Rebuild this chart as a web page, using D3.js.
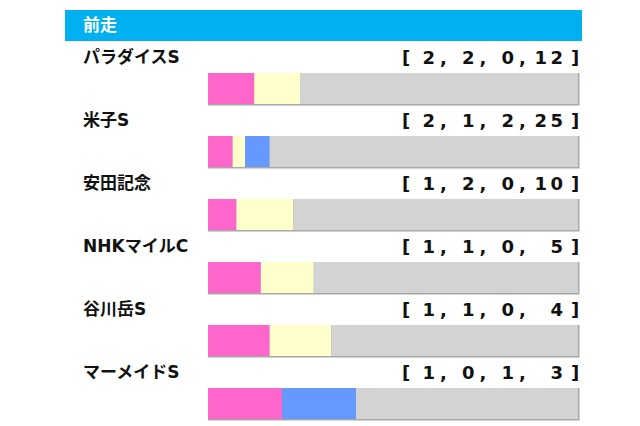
<!DOCTYPE html>
<html>
<head>
<meta charset="utf-8">
<script src="https://d3js.org/d3.v7.min.js"></script>
<style>
  body { margin: 0; background: #fff; }
  text { font-family: "DejaVu Sans", "Noto Sans CJK JP", sans-serif; font-weight: bold; }
</style>
</head>
<body>
<div id="chart"></div>
<script>
// data
var title = "前走";
var races = ["パラダイスS", "米子S", "安田記念", "NHKマイルC", "谷川岳S", "マーメイドS"];
var first  = [2, 2, 1, 1, 1, 1];
var second = [2, 1, 2, 1, 1, 0];
var third  = [0, 2, 0, 0, 0, 1];
var other  = [12, 25, 10, 5, 4, 3];
var colors = ["#ff66cc", "#ffffcc", "#6699ff", "#d3d3d3"];

var W = 640, H = 426;
var svg = d3.select("#chart").append("svg")
    .attr("width", W)
    .attr("height", H);

// header
svg.append("rect")
    .attr("x", 65).attr("y", 10)
    .attr("width", 517).attr("height", 31)
    .attr("fill", "#00b0f0");
svg.append("text")
    .attr("x", 83).attr("y", 31)
    .attr("fill", "#fff")
    .style("font-size", "17px")
    .text(title);

// scales
var y = d3.scalePoint().domain(races).range([73, 388]);
var barH = 31;
var x = d3.scaleLinear().domain([0, 1]).range([208, 578]);

var rows = races.map(function (r, i) {
  return { race: r, vals: [first[i], second[i], third[i], other[i]] };
});

var g = svg.selectAll("g.row").data(rows).enter().append("g").attr("class", "row");

// race label
g.append("text")
    .attr("x", 83)
    .attr("y", function (d) { return y(d.race) - 10; })
    .attr("fill", "#111")
    .style("font-size", "17px")
    .text(function (d) { return d.race; });

// shadow border
g.append("rect")
    .attr("x", x(0))
    .attr("y", function (d) { return y(d.race); })
    .attr("width", x(1) - x(0) + 1.5)
    .attr("height", barH + 1.5)
    .attr("fill", "#a8a8a8");

// stacked segments
g.each(function (d) {
  var total = d3.sum(d.vals);
  var cum = 0;
  var segs = d.vals.map(function (v, k) {
    var s = { x0: cum / total, x1: (cum + v) / total, k: k };
    cum += v;
    return s;
  });
  d3.select(this).selectAll("rect.seg").data(segs).enter().append("rect")
      .attr("class", "seg")
      .attr("x", function (s) { return x(s.x0); })
      .attr("y", y(d.race))
      .attr("width", function (s) { return x(s.x1) - x(s.x0); })
      .attr("height", barH)
      .attr("fill", function (s) { return colors[s.k]; });
});

// record text [ a, b, c, d ]
var slot = d3.scaleLinear().domain([0, 2]).range([435, 514]);
var fs = "18px";
g.each(function (d) {
  var base = y(d.race) - 9;
  var t = d3.select(this);
  t.append("text").attr("x", 402).attr("y", base).style("font-size", fs).attr("fill", "#111").text("[");
  t.append("text").attr("x", 571).attr("y", base).style("font-size", fs).attr("fill", "#111").text("]");
  d.vals.forEach(function (v, j) {
    var xr = j < 3 ? slot(j) : 563;
    var digits = String(v).split("").reverse();
    digits.forEach(function (c, n) {
      t.append("text")
          .attr("x", xr - n * 16)
          .attr("y", base)
          .attr("text-anchor", "end")
          .style("font-size", fs)
          .attr("fill", "#111")
          .text(c);
    });
    if (j < 3) {
      t.append("text")
          .attr("x", xr + 5)
          .attr("y", base)
          .style("font-size", fs)
          .attr("fill", "#111")
          .text(",");
    }
  });
});
</script>
</body>
</html>
